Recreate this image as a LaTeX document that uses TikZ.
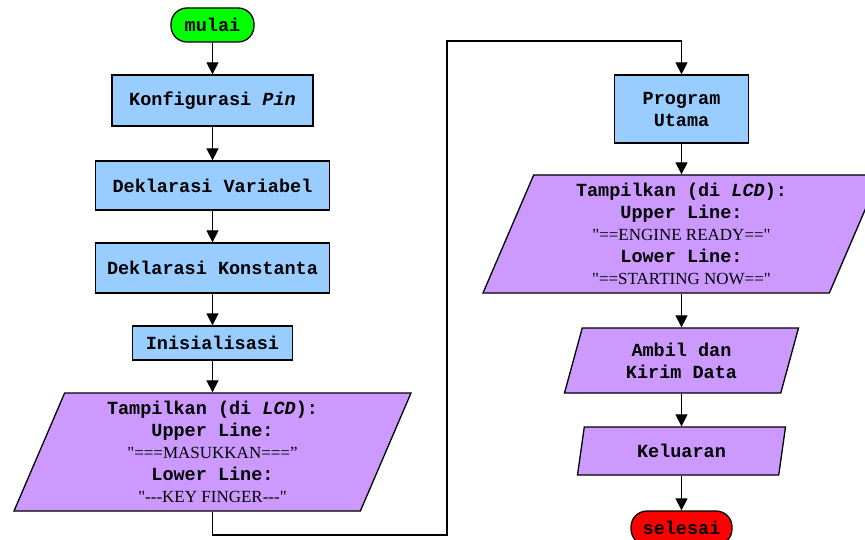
\documentclass[tikz,border=0pt]{standalone}
\usepackage{fontspec}
\newfontfamily\monob{Liberation Mono}
\newfontfamily\tnr{Liberation Serif}
\usetikzlibrary{shapes.geometric,arrows.meta}
\definecolor{boxblue}{HTML}{99CCFF}
\definecolor{boxpurple}{HTML}{CC99FF}
\definecolor{startgreen}{HTML}{00FF00}
\definecolor{endred}{HTML}{FF0000}
\newcommand{\plain}[1]{{\tnr\mdseries\fontsize{17}{22}\selectfont #1}}
\begin{document}
\begin{tikzpicture}[x=1pt,y=-1pt,
  base/.style={draw=black, line width=1.3pt, align=center, inner sep=0pt,
    font=\monob\bfseries\fontsize{18.5}{22}\selectfont, text=black},
  proc/.style={base, rectangle, fill=boxblue},
  io/.style={base, trapezium, trapezium left angle=63.5, trapezium right angle=116.5,
    trapezium stretches body, fill=boxpurple},
  term/.style={base, rectangle, rounded corners=16pt},
  flow/.style={line width=1.3pt, -{Triangle[length=12pt,width=12pt]}}]
\clip (0,0) rectangle (865,540);
\fill[white] (0,0) rectangle (865,540);

% left column
\node[term, fill=startgreen, minimum width=83pt, minimum height=34pt] (mulai) at (212.5,25) {mulai};
\node[proc, minimum width=201pt, minimum height=51pt] (konf) at (212.5,100.5) {Konfigurasi \textit{Pin}};
\node[proc, minimum width=234pt, minimum height=49pt] (dekv) at (212.5,185.5) {Deklarasi Variabel};
\node[proc, minimum width=234pt, minimum height=50pt] (dekk) at (212.5,268) {Deklarasi Konstanta};
\node[proc, minimum width=160pt, minimum height=34pt] (init) at (212.5,343) {Inisialisasi};
\node[io, minimum width=397pt, minimum height=118pt] (tamp1) at (212.5,452)
  {Tampilkan (di \textit{LCD}):\\Upper Line:\\\plain{"===MASUKKAN===”}\\Lower Line:\\\plain{"-{}-{}-KEY FINGER-{}-{}-"}};

% right column
\node[proc, minimum width=134pt, minimum height=68pt] (prog) at (681.5,109) {Program\\Utama};
\node[io, minimum width=397pt, minimum height=118pt] (tamp2) at (681.5,234)
  {Tampilkan (di \textit{LCD}):\\Upper Line:\\\plain{"==ENGINE READY=="}\\Lower Line:\\\plain{"==STARTING NOW=="}};
\node[io, minimum width=234pt, minimum height=65pt] (ambil) at (681.5,360.5) {Ambil dan\\Kirim Data};
\node[io, minimum width=208pt, minimum height=48pt] (kel) at (681.5,451) {Keluaran};
\node[term, fill=endred, minimum width=101pt, minimum height=34pt] (selesai) at (681.5,528) {selesai};

\coordinate (c1) at (447,535);
\coordinate (c2) at (447,41);

% connectors
\draw[flow] (mulai) -- (konf);
\draw[flow] (konf) -- (dekv);
\draw[flow] (dekv) -- (dekk);
\draw[flow] (dekk) -- (init);
\draw[flow] (init.south) -- (init.south |- tamp1.north);
\draw[flow] (tamp1.center |- tamp1.south) |- (c1) -- (c2) -| (prog.north);
\draw[flow] (prog.south) -- (prog.south |- tamp2.north);
\draw[flow] (tamp2.center |- tamp2.south) -- (tamp2.center |- ambil.north);
\draw[flow] (ambil.center |- ambil.south) -- (ambil.center |- kel.north);
\draw[flow] (kel.center |- kel.south) -- (selesai.north);
\end{tikzpicture}
\end{document}
